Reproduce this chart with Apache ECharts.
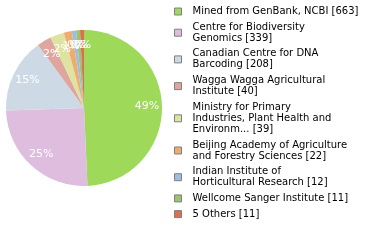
<!DOCTYPE html>
<html>
<head>
<meta charset="utf-8">
<script src="https://cdn.jsdelivr.net/npm/echarts@6/dist/echarts.min.js"></script>
<style>html,body{margin:0;padding:0;background:#fff}#c{width:380px;height:240px}</style>
</head>
<body>
<div id="c"></div>
<script>
var names = [
  "Mined from GenBank, NCBI [663]",
  "Centre for Biodiversity\nGenomics [339]",
  "Canadian Centre for DNA\nBarcoding [208]",
  "Wagga Wagga Agricultural\nInstitute [40]",
  "Ministry for Primary\nIndustries, Plant Health and\nEnvironm... [39]",
  "Beijing Academy of Agriculture\nand Forestry Sciences [22]",
  "Indian Institute of\nHorticultural Research [12]",
  "Wellcome Sanger Institute [11]",
  "5 Others [11]"
];
var values = [663, 339, 208, 40, 39, 22, 12, 11, 11];
var colors = ["#9ED95A", "#DEBDDF", "#CDDAE5", "#DEA69F", "#DFE3A1", "#EFAC6F", "#9EBEE1", "#9DC36F", "#DD6F51"];

var data = values.map(function (v, i) { return { name: names[i], value: v }; });
var font = "DejaVu Sans";
var chart = echarts.init(document.getElementById('c'), null, { renderer: 'canvas' });
chart.setOption({
  animation: false,
  color: colors,
  legend: {
    orient: 'vertical',
    left: 169,
    top: 1,
    icon: 'rect',
    itemWidth: 7,
    itemHeight: 7,
    itemGap: 4.7,
    itemStyle: { borderColor: '#808080', borderWidth: 1 },
    textStyle: { fontFamily: font, fontSize: 10, lineHeight: 11, color: '#000', padding: [0, 0, 0, 6] },
    data: names
  },
  series: [
    {
      type: 'pie',
      center: [84, 108],
      radius: [0, 78],
      startAngle: 90,
      clockwise: true,
      avoidLabelOverlap: false,
      label: { show: false },
      labelLine: { show: false },
      emphasis: { disabled: true },
      data: data
    },
    {
      type: 'pie',
      z: 5,
      center: [84, 108],
      radius: [50, 70],
      startAngle: 90,
      clockwise: true,
      silent: true,
      avoidLabelOverlap: false,
      legendHoverLink: false,
      itemStyle: { color: 'rgba(0,0,0,0)' },
      labelLine: { show: false },
      labelLayout: { hideOverlap: false },
      emphasis: { disabled: true },
      label: {
        show: true,
        position: 'inside',
        color: '#fff',
        fontFamily: font,
        fontSize: 11,
        formatter: function (p) { return Math.floor(p.percent) + '%'; }
      },
      data: data
    }
  ]
});
</script>
</body>
</html>
